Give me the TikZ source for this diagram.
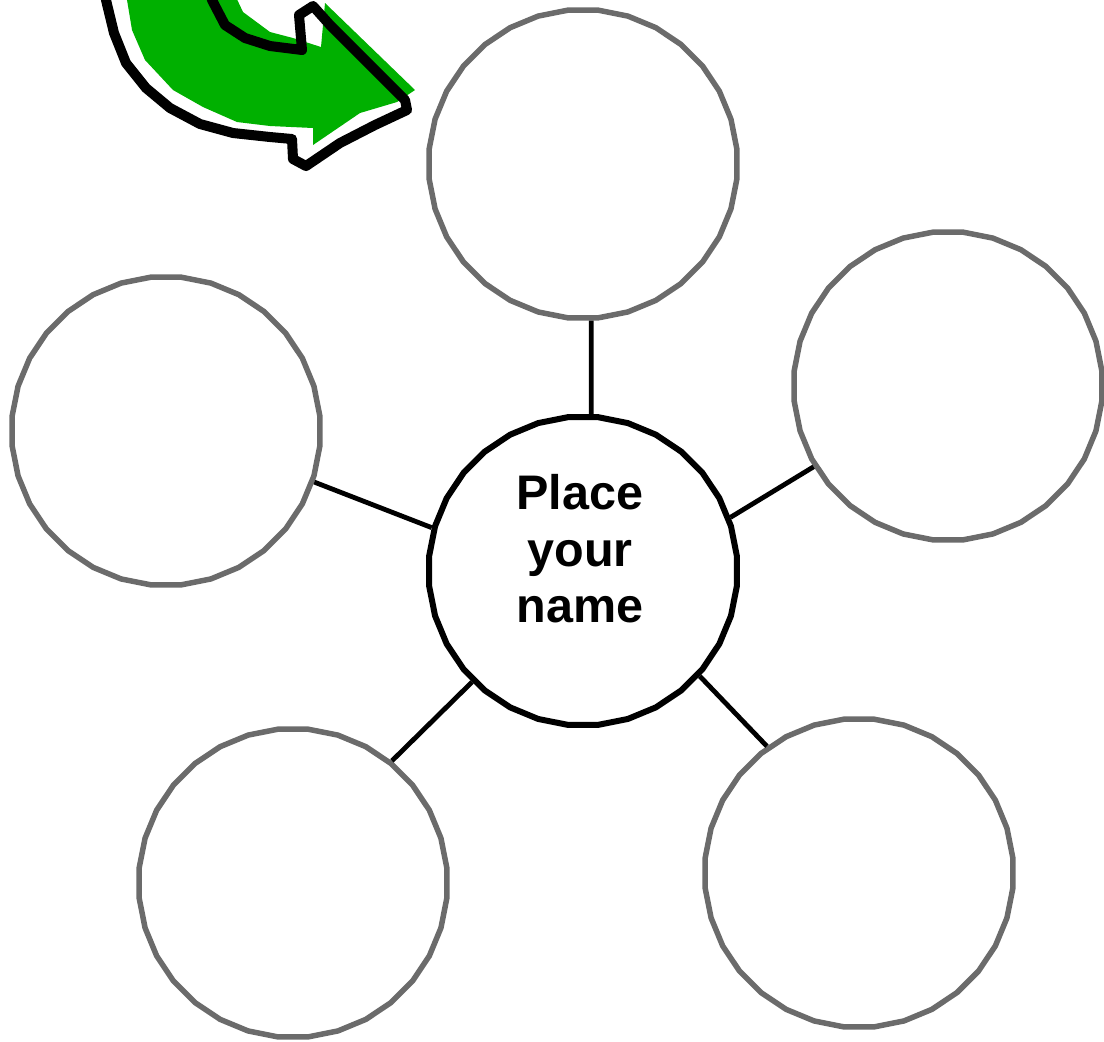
\documentclass[tikz,border=0pt]{standalone}
\usepackage{fontspec}
\setmainfont{Liberation Sans}
\usetikzlibrary{shapes.geometric}
\definecolor{bubblegray}{HTML}{6B6B6B}
\definecolor{arrowgreen}{HTML}{00B000}

\begin{document}
\begin{tikzpicture}[x=0.01cm, y=-0.01cm,
    bubble/.style = {regular polygon, regular polygon sides=32, minimum size=3.09cm,
                     inner sep=0pt, fill=white, draw=bubblegray, line width=0.055cm},
    hub/.style = {bubble, draw=black, line width=0.06cm},
    link/.style = {line width=0.048cm}]
  \useasboundingbox (0,0) rectangle (1104,1041);
  \clip (0,0) rectangle (1104,1041);

  % curved arrow, cut by the top edge
  \fill [arrowgreen] (125,-5) -- (127,0) -- (132,30) -- (145,60) -- (173,90) -- (203,107)
    -- (237,122) -- (270,126) -- (313,128) -- (313,145) -- (360,113) -- (397,102)
    -- (415,90) -- (325,3) -- (321,47) -- (293,38) -- (270,32) -- (243,12) -- (235,-5) -- cycle;
  \draw [line width=0.1cm, line join=round] (105,-10) -- (106,0) -- (114,33) -- (126,63)
    -- (146,88) -- (170,108) -- (200,124) -- (233,133) -- (270,137) -- (292,139)
    -- (293,159) -- (306,166) -- (340,143) -- (375,125) -- (407,110) -- (405,100)
    -- (365,60) -- (330,25) -- (313,6) -- (299,15) -- (302,50) -- (270,46) -- (245,38)
    -- (225,25) -- (212,0) -- (210,-10);

  \node (b1) [bubble] at (583,164) {};
  \node (b2) [bubble] at (948,386) {};
  \node (b3) [bubble] at (166,431) {};
  \node (b4) [bubble] at (293,883) {};
  \node (b5) [bubble] at (859,873) {};
  \node (hub) [hub] at (583,571) {};
  \node (name) [font=\bfseries\fontsize{13.8}{16.1}\selectfont, align=center]
    at (580,549) {Place\\your\\name};

  \path [link]
    (hub.87) edge (b1.-87)
    (hub.20) edge (b2.211)
    (hub.164) edge (b3.-19)
    (hub.225) edge (b4.51)
    (hub.-42) edge (b5.126);
\end{tikzpicture}
\end{document}
